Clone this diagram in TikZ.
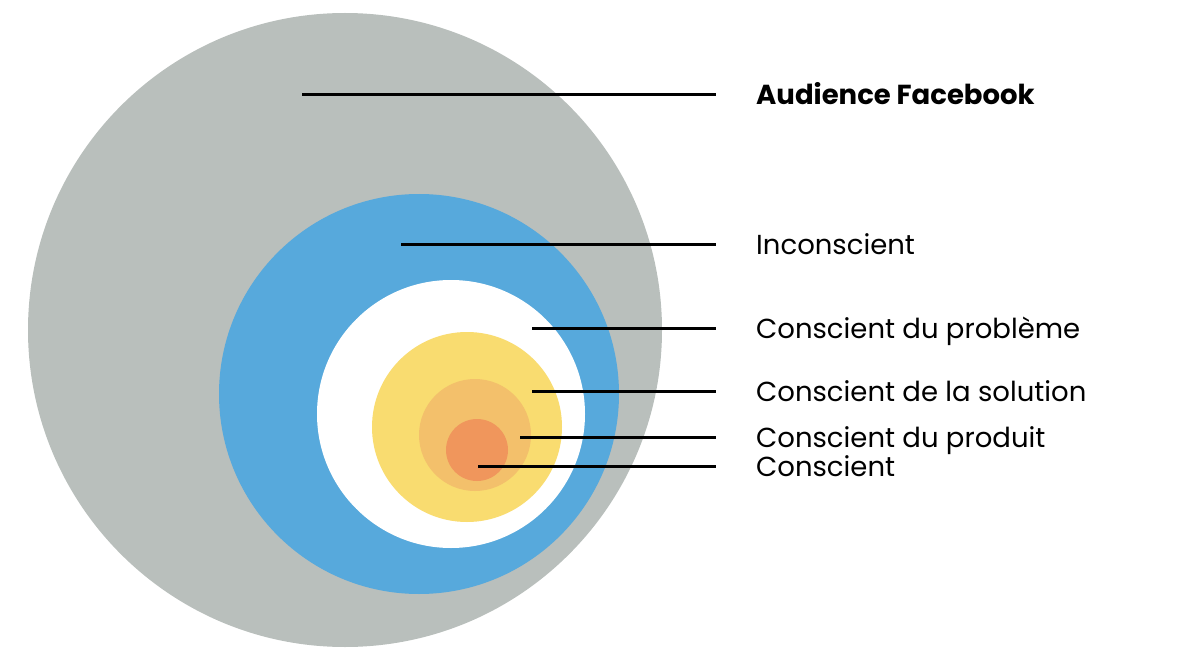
\documentclass[tikz,border=0pt]{standalone}
\usepackage{fontspec}
\setmainfont{Poppins}
\usepackage{xcolor}
\definecolor{cGray}{HTML}{B9BFBC}
\definecolor{cBlue}{HTML}{57A9DC}
\definecolor{cYellow}{HTML}{F9DC70}
\definecolor{cPeach}{HTML}{F3C06B}
\definecolor{cOrange}{HTML}{F0965C}
\usepackage{tikz}
\usetikzlibrary{positioning}
\tikzset{
  ring/.style={circle,inner sep=0pt,draw=none},
  lead/.style={line width=3pt,draw=black},
  label-text/.style={anchor=base west,inner sep=0pt,
    font=\fontsize{27.5}{33}\selectfont},
  label-main/.style={label-text,font=\fontsize{27.5}{33}\selectfont\bfseries},
}

\begin{document}
\begin{tikzpicture}[x=1pt,y=-1pt]
  \useasboundingbox (0,0) rectangle (1200,650);
  % cercles emboîtés
  \node[ring,fill=cGray,minimum size=634pt]   (aud)  at (345,330) {};
  \node[ring,fill=cBlue,minimum size=400pt]   (inc)  at (419,394) {};
  \node[ring,fill=white,minimum size=268pt]   (prob) at (451,414) {};
  \node[ring,fill=cYellow,minimum size=190pt] (sol)  at (467,427) {};
  \node[ring,fill=cPeach,minimum size=112pt]  (prod) at (475,435) {};
  \node[ring,fill=cOrange,minimum size=62pt]  (cons) at (477,450) {};
  % textes (ligne de base ~10pt sous le trait)
  \node[label-main] (t-aud)  at (756,105) {Audience Facebook};
  \node[label-text] (t-inc)  at (756,254) {Inconscient};
  \node[label-text] (t-prob) at (756,338) {Conscient du problème};
  \node[label-text] (t-sol)  at (756,401) {Conscient de la solution};
  \node[label-text] (t-prod) at (756,447) {Conscient du produit};
  \node[label-text] (t-cons) at (756,476) {Conscient};
  % traits
  \coordinate (s-aud)  at (302,95);
  \coordinate (s-inc)  at (401,244);
  \coordinate (s-prob) at (532,328);
  \coordinate (s-sol)  at (532,391);
  \coordinate (s-prod) at (520,437);
  \coordinate (s-cons) at (478,466);
  \foreach \n in {aud,inc,prob,sol,prod,cons}
    \draw[lead] (s-\n) -- ([xshift=-40pt]t-\n.west |- s-\n);
\end{tikzpicture}
\end{document}
